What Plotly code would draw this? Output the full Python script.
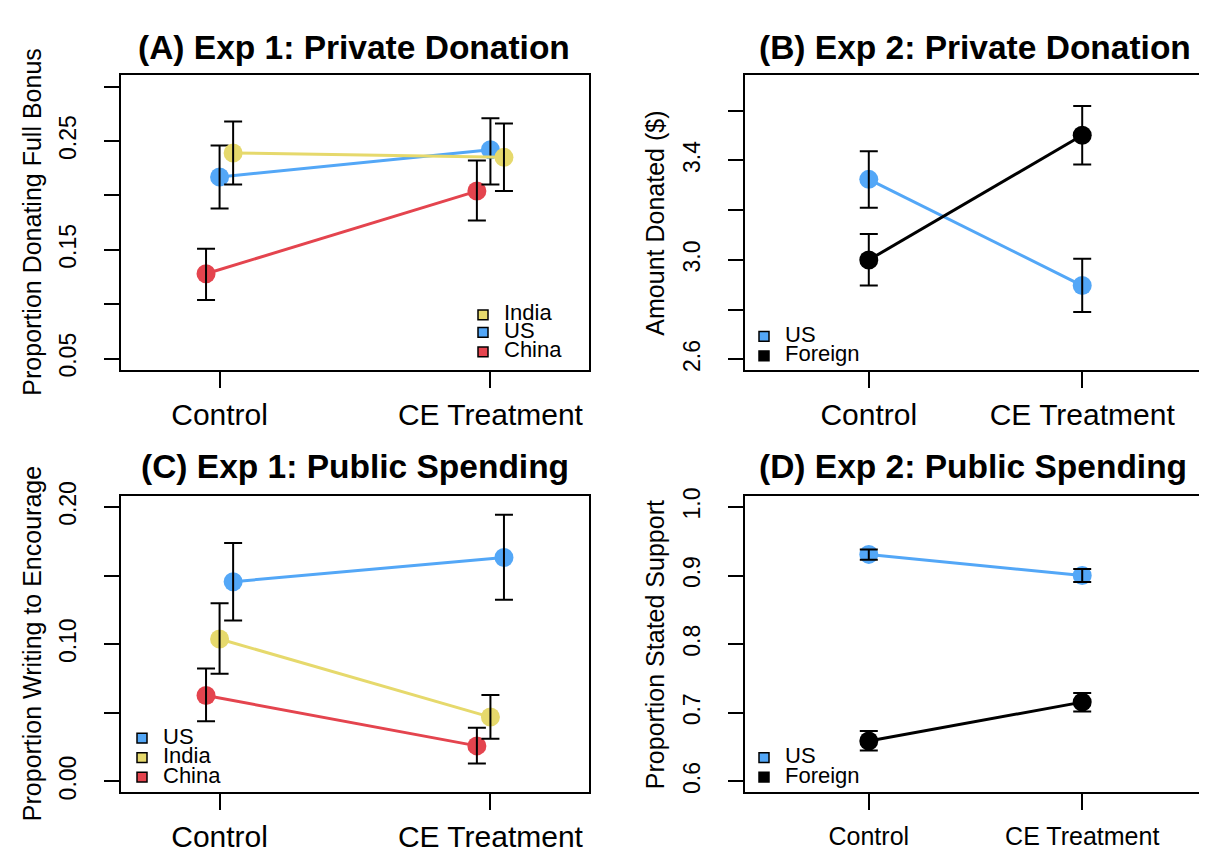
import plotly.graph_objects as go

W, H = 1207, 855

# categories
conditions = ["Control", "CE Treatment"]
cond_pos = [1, 2]

# (A) Exp 1: private donation, proportion donating full bonus
a_us = [0.217, 0.242]
a_us_lo = [0.188, 0.210]
a_us_hi = [0.246, 0.271]
a_india = [0.239, 0.235]
a_india_lo = [0.210, 0.204]
a_india_hi = [0.268, 0.266]
a_china = [0.128, 0.204]
a_china_lo = [0.104, 0.177]
a_china_hi = [0.151, 0.232]

# (B) Exp 2: private donation, amount donated ($)
b_us = [3.324, 2.897]
b_us_lo = [3.210, 2.791]
b_us_hi = [3.437, 3.005]
b_foreign = [3.000, 3.501]
b_foreign_lo = [2.897, 3.384]
b_foreign_hi = [3.104, 3.619]

# (C) Exp 1: public spending, proportion writing to encourage
c_us = [0.1455, 0.1631]
c_us_lo = [0.1173, 0.1323]
c_us_hi = [0.1737, 0.1942]
c_india = [0.1038, 0.0469]
c_india_lo = [0.0784, 0.0311]
c_india_hi = [0.1299, 0.0630]
c_china = [0.0626, 0.0259]
c_china_lo = [0.0439, 0.0131]
c_china_hi = [0.0822, 0.0391]

# (D) Exp 2: public spending, proportion stated support
d_us = [0.9308, 0.9000]
d_us_lo = [0.9230, 0.8906]
d_us_hi = [0.9380, 0.9095]
d_foreign = [0.6588, 0.7156]
d_foreign_lo = [0.6452, 0.7020]
d_foreign_hi = [0.6736, 0.7290]

BLUE = "#53a7f7"
YELLOW = "#e6d96c"
RED = "#e4444e"
BLACK = "#000000"
FONT = "Liberation Sans, Arial, sans-serif"


def px_x(x):
    return x / W


def px_y(y):
    return 1 - y / H


fig = go.Figure()

# panel boxes in pixels: (left, right, top, bottom)
boxes = {
    1: (113.0, 581.0, 53.3, 357.0),
    2: (737.0, 1198.0, 53.3, 357.0),
    3: (113.0, 581.0, 486.0, 790.7),
    4: (737.0, 1198.0, 486.0, 790.7),
}


def add_series(panel, offset, vals, lo, hi, color):
    xs = [p + offset for p in cond_pos]
    xa = "x" if panel == 1 else "x%d" % panel
    ya = "y" if panel == 1 else "y%d" % panel
    fig.add_trace(go.Scatter(
        x=xs, y=vals, mode="lines+markers", xaxis=xa, yaxis=ya,
        line=dict(color=color, width=3),
        marker=dict(color=color, size=19),
        showlegend=False, hoverinfo="skip"
    ))
    # error bars drawn on top of the dots
    fig.add_trace(go.Scatter(
        x=xs, y=vals, mode="markers", xaxis=xa, yaxis=ya,
        marker=dict(color="rgba(0,0,0,0)", size=1),
        error_y=dict(type="data", symmetric=False,
                     array=[h - v for h, v in zip(hi, vals)],
                     arrayminus=[v - l for v, l in zip(vals, lo)],
                     color=BLACK, thickness=2, width=9),
        showlegend=False, hoverinfo="skip"
    ))


add_series(1, -0.05, a_china, a_china_lo, a_china_hi, RED)
add_series(1, 0.0, a_us, a_us_lo, a_us_hi, BLUE)
add_series(1, 0.05, a_india, a_india_lo, a_india_hi, YELLOW)

add_series(2, 0.0, b_us, b_us_lo, b_us_hi, BLUE)
add_series(2, 0.0, b_foreign, b_foreign_lo, b_foreign_hi, BLACK)

add_series(3, -0.05, c_china, c_china_lo, c_china_hi, RED)
add_series(3, 0.0, c_india, c_india_lo, c_india_hi, YELLOW)
add_series(3, 0.05, c_us, c_us_lo, c_us_hi, BLUE)

add_series(4, 0.0, d_us, d_us_lo, d_us_hi, BLUE)
add_series(4, 0.0, d_foreign, d_foreign_lo, d_foreign_hi, BLACK)

xranges = {1: [0.636, 2.364], 2: [0.42, 2.58], 3: [0.636, 2.364], 4: [0.42, 2.58]}
yranges = {1: [0.0392, 0.3108], 2: [2.556, 3.744], 3: [-0.008, 0.208], 4: [0.584, 1.016]}
ytick_vals = {
    1: [0.05, 0.10, 0.15, 0.20, 0.25, 0.30],
    2: [2.6, 2.8, 3.0, 3.2, 3.4, 3.6],
    3: [0.00, 0.05, 0.10, 0.15, 0.20],
    4: [0.6, 0.7, 0.8, 0.9, 1.0],
}
ytick_text = {
    1: ["0.05", "", "0.15", "", "0.25", ""],
    2: ["2.6", "", "3.0", "", "3.4", ""],
    3: ["0.00", "", "0.10", "", "0.20"],
    4: ["0.6", "0.7", "0.8", "0.9", "1.0"],
}
xfont = {1: 30, 2: 30, 3: 30, 4: 25}
xstand = {1: 1, 2: 1, 3: 1, 4: 5}

layout = {}
for k, (l, r, t, b) in boxes.items():
    sx = "" if k == 1 else str(k)
    layout["xaxis" + sx] = dict(
        domain=[px_x(l), px_x(r)], anchor="y" + sx, range=xranges[k],
        tickmode="array", tickvals=cond_pos, ticktext=conditions,
        showline=True, mirror=True, linecolor="black", linewidth=1.5,
        ticks="outside", ticklen=16, tickwidth=1.5, tickcolor="black",
        showgrid=False, zeroline=False, ticklabelstandoff=xstand[k],
        tickfont=dict(family=FONT, size=xfont[k], color="black"),
    )
    layout["yaxis" + sx] = dict(
        domain=[px_y(b), px_y(t)], anchor="x" + sx, range=yranges[k],
        tickmode="array", tickvals=ytick_vals[k], ticktext=ytick_text[k],
        tickangle=-90,
        showline=True, mirror=True, linecolor="black", linewidth=1.5,
        ticks="outside", ticklen=15, tickwidth=1.5, tickcolor="black",
        showgrid=False, zeroline=False, ticklabelstandoff=19,
        tickfont=dict(family=FONT, size=23, color="black"),
    )

annotations = []
titles = [
    ("(A) Exp 1: Private Donation", 346, 25),
    ("(B) Exp 2: Private Donation", 967, 25),
    ("(C) Exp 1: Public Spending", 347, 456),
    ("(D) Exp 2: Public Spending", 965, 456),
]
for text, cx, cy in titles:
    annotations.append(dict(
        text="<b>%s</b>" % text, xref="paper", yref="paper",
        x=px_x(cx), y=px_y(cy), xanchor="center", yanchor="middle",
        showarrow=False, font=dict(family=FONT, size=33.5, color="black")
    ))

ytitles = [
    ("Proportion Donating Full Bonus", 24, 1),
    ("Amount Donated ($)", 647, 2),
    ("Proportion Writing to Encourage", 24, 3),
    ("Proportion Stated Support", 647, 4),
]
for text, cx, k in ytitles:
    t, b = boxes[k][2], boxes[k][3]
    annotations.append(dict(
        text=text, xref="paper", yref="paper", textangle=-90,
        x=px_x(cx), y=px_y((t + b) / 2), xanchor="center", yanchor="middle",
        showarrow=False, font=dict(family=FONT, size=25, color="black")
    ))

# legends: (label, colour, square x, text x, row y)
legends = [
    ("India", YELLOW, 475, 494, 298),
    ("US", BLUE, 475, 494, 316),
    ("China", RED, 475, 494, 336),
    ("US", BLUE, 756, 775, 320),
    ("Foreign", BLACK, 756, 775, 340),
    ("US", BLUE, 134, 153, 733),
    ("India", YELLOW, 134, 153, 753),
    ("China", RED, 134, 153, 773),
    ("US", BLUE, 756, 775, 753),
    ("Foreign", BLACK, 756, 775, 773),
]
shapes = []
for label, color, sx, tx, ry in legends:
    shapes.append(dict(
        type="rect", xref="paper", yref="paper",
        x0=px_x(sx - 5), x1=px_x(sx + 5), y0=px_y(ry + 2 + 5), y1=px_y(ry + 2 - 5),
        fillcolor=color, line=dict(color="black", width=1.5)
    ))
    annotations.append(dict(
        text=label, xref="paper", yref="paper",
        x=px_x(tx), y=px_y(ry), xanchor="left", yanchor="middle",
        showarrow=False, font=dict(family=FONT, size=22, color="black")
    ))

fig.update_layout(
    width=W, height=H,
    margin=dict(l=0, r=0, t=0, b=0),
    paper_bgcolor="white", plot_bgcolor="white",
    annotations=annotations, shapes=shapes,
    showlegend=False,
    **layout
)

fig.write_html("out.html")
